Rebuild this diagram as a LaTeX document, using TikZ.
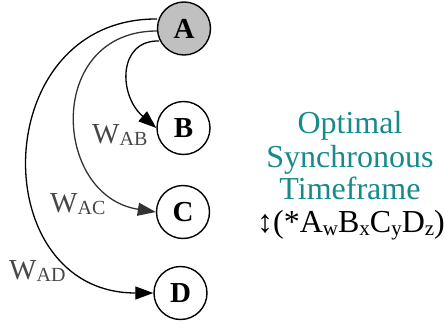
\documentclass[tikz,border=0pt]{standalone}
\usepackage{fontspec}
\setmainfont{Liberation Serif}
\usetikzlibrary{arrows.meta}
\definecolor{teal1}{HTML}{178A8A}
\definecolor{lblgray}{HTML}{474747}
\definecolor{edgegray}{HTML}{333333}
\definecolor{nodefill}{HTML}{C0C0C0}
\tikzset{
  vnode/.style={circle, draw=black, line width=1.4pt, minimum size=53pt, inner sep=0pt,
    font=\fontsize{29}{30}\selectfont\bfseries},
  edge/.style={line width=1.3pt, -{Triangle[length=18pt,width=13pt]}},
  wlabel/.style={anchor=base west, inner sep=0pt, text=lblgray, font=\fontsize{29}{30}\selectfont},
  sidetext/.style={anchor=base, inner sep=0pt, font=\fontsize{32}{33}\selectfont}
}
\newcommand{\wsub}[1]{W\raisebox{-2pt}{\fontsize{20}{20}\selectfont #1}}
\newcommand{\ssub}[1]{\raisebox{-3pt}{\fontsize{21}{21}\selectfont #1}}
\begin{document}
\begin{tikzpicture}[x=1pt,y=-1pt]
\useasboundingbox (0,0) rectangle (445,324);
\node[vnode, fill=nodefill] (A) at (184,28.5) {A};
\node[vnode] (B) at (183.5,128) {B};
\node[vnode] (C) at (183,212) {C};
\node[vnode] (D) at (180.5,293) {D};
\coordinate (a1) at (157,19);
\coordinate (a2) at (157,31);
\coordinate (a3) at (159,41);
\draw[edge] (a3) .. controls (118,40) and (118,95) .. (B.west);
\draw[edge, draw=edgegray, color=edgegray] (a2) .. controls (45,31) and (52,196) .. (C.west);
\draw[edge] (a1) .. controls (-13,18) and (-16,293) .. (D.west);
\node[wlabel] (lab) at (92,143) {\wsub{AB}};
\node[wlabel] (lac) at (50,212) {\wsub{AC}};
\node[wlabel] (lad) at (9,279) {\wsub{AD}};
\node[sidetext, text=teal1] (t1) at (350,133) {Optimal};
\node[sidetext, text=teal1] (t2) at (350,167) {Synchronous};
\node[sidetext, text=teal1] (t3) at (350,199) {Timeframe};
\node[sidetext] (t4) at (351,232) {↕(*A\ssub{w}B\ssub{x}C\ssub{y}D\ssub{z})};
\end{tikzpicture}
\end{document}
